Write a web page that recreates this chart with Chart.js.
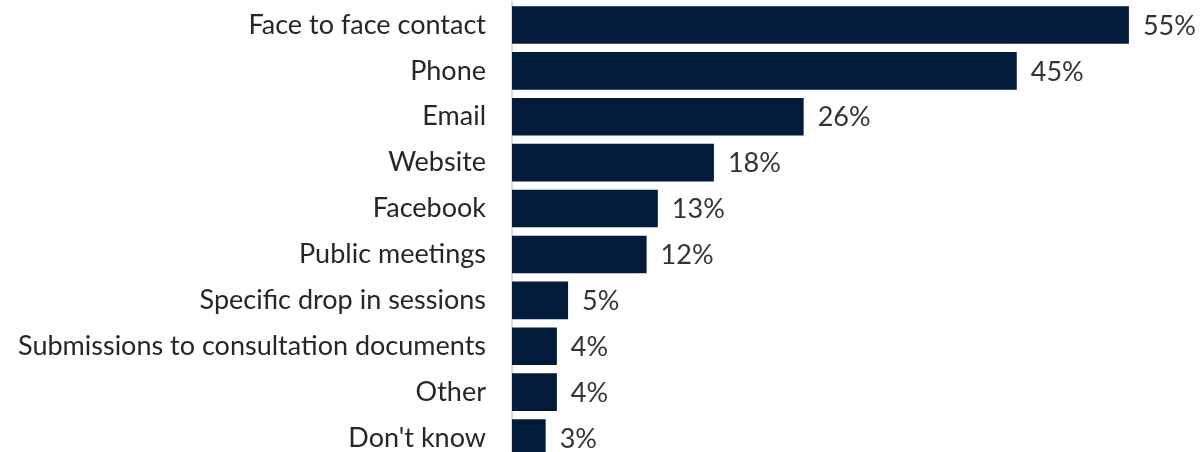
<!DOCTYPE html>
<html>
<head>
<meta charset="utf-8">
<script src="https://cdn.jsdelivr.net/npm/chart.js@4/dist/chart.umd.min.js"></script>
<style>
  html, body { margin: 0; padding: 0; background: #fff; overflow: hidden; }
  #wrap { position: relative; width: 1204px; height: 461px; }
</style>
</head>
<body>
<div id="wrap"><canvas id="myChart"></canvas></div>
<script>
// Canali di contatto (percentuale di risposte)
const categories = [
  'Face to face contact',
  'Phone',
  'Email',
  'Website',
  'Facebook',
  'Public meetings',
  'Specific drop in sessions',
  'Submissions to consultation documents',
  'Other',
  "Don't know"
];
const values = [55, 45, 26, 18, 13, 12, 5, 4, 4, 3];

const FONT = "Lato, 'Open Sans', sans-serif";
const FONT_SIZE = 27;

/* Etichette con il valore a destra di ogni barra */
const valueLabels = {
  id: 'valueLabels',
  afterDatasetsDraw(chart) {
    const ctx = chart.ctx;
    const meta = chart.getDatasetMeta(0);
    ctx.save();
    ctx.font = FONT_SIZE + 'px ' + FONT;
    ctx.fillStyle = '#333333';
    ctx.textAlign = 'left';
    ctx.textBaseline = 'middle';
    meta.data.forEach((bar, i) => {
      ctx.fillText(values[i] + '%', bar.x + 14, bar.y + 1);
    });
    ctx.restore();
  }
};

new Chart(document.getElementById('myChart'), {
  type: 'bar',
  data: {
    labels: categories,
    datasets: [{
      data: values,
      backgroundColor: '#031b3b',
      borderWidth: 0,
      barPercentage: 0.82,
      categoryPercentage: 1
    }]
  },
  options: {
    indexAxis: 'y',
    responsive: true,
    maintainAspectRatio: false,
    animation: false,
    layout: { padding: { top: 2, right: 19, bottom: 0, left: 0 } },
    plugins: {
      legend: { display: false },
      tooltip: { enabled: false }
    },
    scales: {
      x: {
        display: false,
        min: 0,
        max: 60
      },
      y: {
        // larghezza fissa dell'asse e niente margini extra sopra/sotto
        afterFit(scale) {
          scale.width = 512;
          scale.paddingTop = 0;
          scale.paddingBottom = 0;
        },
        grid: { display: false, drawTicks: false },
        border: { display: true, color: '#d9d9d9', width: 2 },
        ticks: {
          color: '#262626',
          padding: 26,
          font: { family: FONT, size: FONT_SIZE }
        }
      }
    }
  },
  plugins: [valueLabels]
});
</script>
</body>
</html>
